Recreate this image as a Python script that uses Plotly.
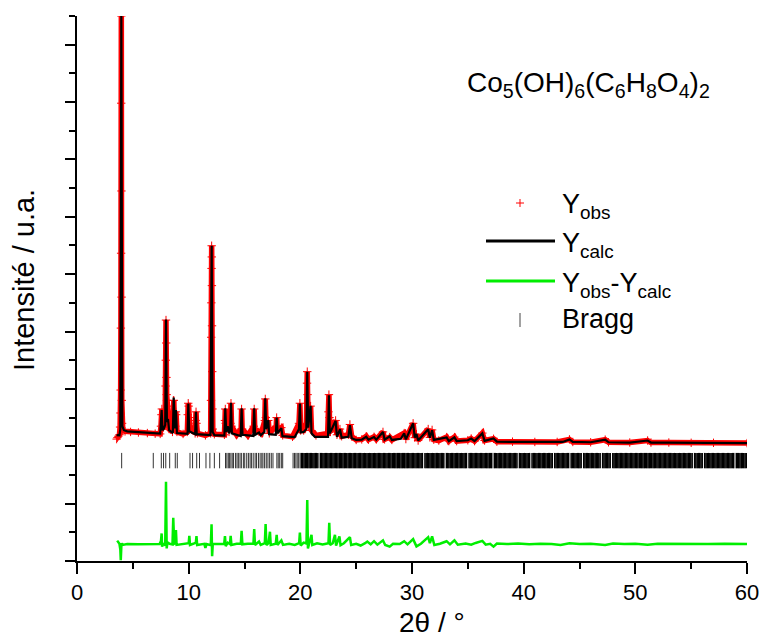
import plotly.graph_objects as go

# ---- data (2theta in degrees, intensity in arbitrary counts) ----
calc_profile = [
    (3.55, 4390), (3.80, 4380), (3.88, 4600), (3.97, 19000), (4.06, 4700), (4.20, 4560),
    (4.50, 4520), (5.50, 4500), (6.50, 4470), (7.45, 4440), (7.58, 5260), (7.66, 4560),
    (7.78, 4620), (7.90, 4750), (7.97, 8420), (8.05, 4850), (8.15, 4950), (8.25, 4560),
    (8.58, 4460), (8.66, 5700), (8.76, 4620), (8.86, 5260), (8.95, 4460), (9.90, 4430),
    (9.97, 5490), (10.05, 4520), (10.58, 4420), (10.65, 5200), (10.72, 4420), (11.95, 4390),
    (12.06, 10990), (12.15, 4500), (12.30, 4390), (13.20, 4370), (13.28, 5320), (13.36, 4500),
    (13.50, 4700), (13.62, 4450), (13.72, 4600), (13.79, 5520), (13.87, 4450), (14.66, 4360),
    (14.74, 5320), (14.82, 4400), (15.79, 4360), (15.87, 5320), (15.95, 4400), (16.30, 4480),
    (16.45, 4380), (16.78, 4500), (16.86, 5670), (16.94, 4600), (17.13, 4910), (17.20, 4420),
    (17.80, 4400), (17.88, 5000), (17.96, 4450), (18.30, 4630), (18.40, 4350), (19.50, 4320),
    (19.88, 4600), (19.96, 5490), (20.04, 4480), (20.30, 4500), (20.54, 4600), (20.62, 6600),
    (20.70, 4650), (20.92, 5410), (21.00, 4450), (21.30, 4330), (22.48, 4330), (22.56, 5780),
    (22.64, 4450), (23.16, 4890), (23.28, 4330), (23.55, 4590), (23.70, 4300), (24.30, 4330),
    (24.44, 4740), (24.60, 4280), (25.00, 4220), (25.50, 4230), (25.90, 4330), (26.10, 4230),
    (26.60, 4320), (26.80, 4230), (27.40, 4500), (27.55, 4230), (28.00, 4350), (28.20, 4220),
    (29.00, 4260), (29.30, 4450), (29.45, 4240), (30.10, 4800), (30.25, 4300), (30.40, 4430),
    (30.55, 4200), (31.45, 4590), (31.60, 4300), (31.80, 4560), (31.95, 4220), (33.10, 4310),
    (33.30, 4180), (33.80, 4310), (34.00, 4180), (35.00, 4210), (35.30, 4270), (35.60, 4180),
    (36.30, 4450), (36.50, 4190), (37.30, 4270), (37.60, 4160), (39.50, 4150), (41.50, 4150),
    (43.50, 4150), (44.10, 4240), (44.40, 4150), (46.00, 4140), (47.30, 4230), (47.60, 4140),
    (49.50, 4130), (51.10, 4200), (51.40, 4130), (53.00, 4130), (55.00, 4120), (57.00, 4120),
    (60.00, 4110),
]

obs_profile = [
    (3.55, 4250), (3.62, 4300), (3.70, 4350), (3.80, 4400), (3.86, 4670), (3.89, 5160),
    (3.91, 5960), (3.93, 8120), (3.95, 10730), (3.96, 15960), (3.97, 19000), (3.98, 12900),
    (3.99, 9200), (4.01, 5600), (4.04, 4800), (4.10, 4550), (4.30, 4520), (4.80, 4500),
    (5.50, 4480), (6.30, 4460), (7.00, 4440), (7.45, 4430), (7.52, 4700), (7.56, 5100),
    (7.60, 5300), (7.64, 4600), (7.72, 4650), (7.85, 4750), (7.90, 5200), (7.93, 6100),
    (7.95, 7000), (7.97, 8400), (7.99, 7600), (8.01, 6400), (8.03, 5800), (8.06, 5600),
    (8.10, 5400), (8.15, 4900), (8.25, 4600), (8.55, 4500), (8.60, 5000), (8.63, 5600),
    (8.67, 5600), (8.72, 4800), (8.80, 4700), (8.84, 5200), (8.88, 5100), (8.95, 4500),
    (9.50, 4430), (9.88, 4500), (9.92, 5100), (9.96, 5500), (10.00, 5400), (10.05, 5000),
    (10.10, 4700), (10.58, 4450), (10.62, 4900), (10.66, 5200), (10.70, 4800), (10.78, 4450),
    (11.50, 4380), (11.97, 4450), (12.00, 5600), (12.02, 7800), (12.03, 9000), (12.05, 10200),
    (12.06, 10990), (12.07, 10600), (12.08, 9600), (12.09, 8200), (12.11, 6600), (12.13, 5300),
    (12.16, 4600), (12.30, 4420), (13.20, 4400), (13.25, 4900), (13.28, 5300), (13.32, 4800),
    (13.45, 4650), (13.55, 4900), (13.62, 4500), (13.74, 4800), (13.79, 5500), (13.84, 4700),
    (14.30, 4400), (14.70, 4600), (14.74, 5300), (14.79, 4600), (15.30, 4380), (15.82, 4700),
    (15.87, 5300), (15.92, 4600), (16.30, 4500), (16.50, 4450), (16.82, 4900), (16.86, 5650),
    (16.91, 5000), (17.00, 4700), (17.13, 4900), (17.22, 4450), (17.84, 4700), (17.88, 5000),
    (17.93, 4550), (18.30, 4650), (18.42, 4380), (19.30, 4330), (19.88, 4800), (19.96, 5500),
    (20.03, 4550), (20.30, 4550), (20.55, 4800), (20.60, 6200), (20.62, 6600), (20.65, 5800),
    (20.72, 4700), (20.92, 5400), (21.00, 4550), (21.40, 4380), (22.45, 4450), (22.52, 5200),
    (22.56, 5800), (22.61, 5000), (22.70, 4500), (23.16, 4900), (23.28, 4400), (23.55, 4600),
    (23.70, 4350), (24.30, 4400), (24.44, 4760), (24.60, 4340), (25.00, 4220), (25.50, 4240),
    (25.90, 4350), (26.10, 4230), (26.60, 4330), (26.80, 4240), (27.40, 4500), (27.55, 4240),
    (28.00, 4320), (28.20, 4220), (29.30, 4460), (29.45, 4250), (30.10, 4800), (30.25, 4300),
    (30.40, 4420), (30.55, 4200), (31.45, 4600), (31.60, 4310), (31.80, 4570), (31.95, 4230),
    (32.40, 4200), (33.10, 4320), (33.30, 4180), (33.80, 4320), (34.00, 4180), (35.00, 4210),
    (35.30, 4270), (35.60, 4180), (36.30, 4460), (36.50, 4200), (37.30, 4260), (37.60, 4160),
    (39.00, 4160), (41.00, 4150), (43.00, 4150), (44.10, 4240), (44.40, 4150), (46.00, 4140),
    (47.30, 4230), (47.60, 4140), (49.50, 4130), (51.10, 4200), (51.40, 4130), (53.00, 4130),
    (55.00, 4120), (57.00, 4120), (60.00, 4110),
]

diff_profile = [
    (3.60, 710), (3.70, 640), (3.80, 600), (3.88, 400), (3.92, 30), (3.97, 500), (4.02, 620),
    (4.10, 560), (4.50, 590), (5.50, 580), (6.50, 590), (7.40, 590), (7.52, 700), (7.58, 960),
    (7.62, 500), (7.70, 600), (7.90, 550), (7.97, 2760), (8.03, 440), (8.10, 650), (8.30, 600),
    (8.55, 580), (8.62, 1510), (8.70, 600), (8.80, 620), (8.86, 1080), (8.92, 560), (9.50, 580),
    (10.00, 620), (10.06, 880), (10.12, 560), (10.40, 600), (10.64, 640), (10.70, 870),
    (10.76, 560), (11.40, 600), (11.50, 460), (11.60, 590), (11.98, 550), (12.05, 1280),
    (12.10, 170), (12.16, 600), (12.60, 590), (13.18, 590), (13.25, 870), (13.32, 520),
    (13.50, 640), (13.70, 590), (13.76, 880), (13.83, 560), (14.30, 600), (14.67, 600),
    (14.74, 1050), (14.81, 580), (15.30, 600), (15.80, 610), (15.87, 1110), (15.94, 560),
    (16.30, 680), (16.45, 560), (16.82, 620), (16.89, 1290), (16.96, 560), (17.15, 620),
    (17.28, 1020), (17.35, 560), (17.80, 600), (17.88, 910), (17.95, 560), (18.30, 720),
    (18.45, 560), (19.00, 600), (19.50, 560), (19.89, 620), (19.96, 990), (20.03, 540),
    (20.30, 640), (20.55, 610), (20.62, 2130), (20.68, 440), (20.80, 620), (21.00, 910),
    (21.07, 560), (21.50, 620), (22.00, 580), (22.52, 620), (22.59, 1330), (22.66, 560),
    (22.90, 620), (23.10, 910), (23.20, 540), (23.50, 860), (23.60, 550), (23.90, 620),
    (24.44, 830), (24.55, 560), (25.00, 600), (25.40, 540), (25.80, 620), (26.00, 680),
    (26.30, 580), (26.60, 690), (26.90, 570), (27.40, 720), (27.60, 560), (28.00, 500),
    (28.30, 600), (28.90, 590), (29.30, 690), (29.60, 580), (30.10, 760), (30.40, 510),
    (30.80, 600), (31.45, 830), (31.60, 620), (31.80, 860), (32.00, 560), (32.50, 600),
    (33.10, 690), (33.40, 580), (33.80, 720), (34.10, 570), (34.80, 610), (35.30, 570),
    (35.70, 630), (36.30, 700), (36.60, 570), (37.00, 600), (37.30, 500), (37.60, 610),
    (38.50, 590), (39.50, 610), (40.50, 580), (41.50, 600), (42.50, 590), (43.30, 560),
    (44.10, 620), (45.00, 590), (46.00, 600), (47.30, 560), (48.00, 610), (49.00, 590),
    (50.00, 600), (51.10, 570), (52.00, 600), (53.50, 590), (55.00, 600), (56.50, 590),
    (58.00, 600), (60.00, 590),
]

bragg_sparse = [
    4.00, 6.83, 7.55, 7.75, 7.95, 8.30, 8.80, 8.98, 10.12, 10.35, 10.72, 10.97, 11.55, 11.90,
    12.30, 12.77, 13.30, 13.42, 13.55, 13.65, 13.78, 13.90, 14.02, 14.20, 14.33, 14.45, 14.60,
    14.72, 14.90, 15.02, 15.20, 15.35, 15.50, 15.62, 15.78, 15.95, 16.08, 16.25, 16.40, 16.55,
    16.65, 16.80, 16.95, 17.10, 17.25, 17.40, 17.55, 17.90, 18.02, 18.15, 18.30, 18.42, 19.35,
    19.48, 19.60, 19.72, 19.85, 19.98,
]

bragg_dense = [
    20.10, 20.21, 20.33, 20.44, 20.55, 20.66, 20.78, 20.89, 21.00, 21.12,
    21.23, 21.34, 21.45, 21.57, 21.79, 21.91, 22.02, 22.13, 22.24, 22.36, 22.47, 22.58, 22.70,
    22.81, 22.92, 23.03, 23.15, 23.26, 23.37, 23.49, 23.60, 23.71, 23.82, 23.94, 24.05, 24.16,
    24.28, 24.39, 24.50, 24.61, 24.73, 24.84, 24.95, 25.07, 25.18, 25.29, 25.40, 25.52, 25.63,
    25.74, 25.86, 25.97, 26.08, 26.19, 26.31, 26.42, 26.53, 26.65, 26.76, 26.87, 26.98, 27.10,
    27.21, 27.32, 27.44, 27.55, 27.66, 27.77, 27.89, 28.00, 28.11, 28.23, 28.34, 28.45, 28.56,
    28.68, 28.79, 28.90, 29.02, 29.13, 29.24, 29.35, 29.47, 29.58, 29.69, 29.81, 29.92, 30.03,
    30.14, 30.26, 30.37, 30.48, 30.60, 30.71, 30.82, 30.93, 31.16, 31.27, 31.39, 31.50, 31.61,
    31.72, 31.84, 31.95, 32.06, 32.18, 32.29, 32.40, 32.51, 32.63, 32.74, 32.85, 33.08, 33.19,
    33.30, 33.42, 33.53, 33.64, 33.76, 33.87, 33.98, 34.09, 34.21, 34.32, 34.43, 34.55, 34.66,
    34.77, 34.88, 35.11, 35.22, 35.34, 35.45, 35.56, 35.67, 35.79, 35.90, 36.01, 36.13, 36.24,
    36.35, 36.46, 36.58, 36.69, 36.80, 36.92, 37.03, 37.14, 37.37, 37.48, 37.59, 37.71, 37.82,
    37.93, 38.04, 38.16, 38.27, 38.38, 38.50, 38.61, 38.72, 38.83, 38.95, 39.06, 39.17, 39.29,
    39.40, 39.62, 39.74, 39.85, 39.96, 40.08, 40.19, 40.30, 40.41, 40.53, 40.75, 40.87, 40.98,
    41.09, 41.20, 41.32, 41.43, 41.54, 41.66, 41.77, 41.88, 41.99, 42.11, 42.22, 42.33, 42.45,
    42.56, 42.78, 42.90, 43.01, 43.12, 43.24, 43.35, 43.46, 43.57, 43.69, 43.80, 43.91, 44.03,
    44.25, 44.36, 44.48, 44.59, 44.70, 44.82, 44.93, 45.04, 45.15, 45.38, 45.49, 45.61, 45.72,
    45.83, 45.94, 46.06, 46.17, 46.28, 46.40, 46.51, 46.62, 46.73, 46.85, 47.07, 47.19, 47.30,
    47.41, 47.52, 47.64, 47.75, 47.98, 48.09, 48.20, 48.31, 48.43, 48.54, 48.65, 48.77, 48.88,
    48.99, 49.10, 49.22, 49.33, 49.44, 49.56, 49.67, 49.78, 49.89, 50.01, 50.12, 50.23, 50.35,
    50.46, 50.57, 50.68, 50.80, 50.91, 51.02, 51.14, 51.25, 51.36, 51.47, 51.59, 51.70, 51.81,
    51.93, 52.04, 52.15, 52.26, 52.38, 52.49, 52.60, 52.72, 52.83, 52.94, 53.05, 53.17, 53.28,
    53.39, 53.51, 53.62, 53.73, 53.84, 53.96, 54.07, 54.18, 54.30, 54.41, 54.52, 54.63, 54.75,
    54.86, 54.97, 55.09, 55.31, 55.42, 55.54, 55.65, 55.76, 55.88, 55.99, 56.21, 56.33, 56.44,
    56.55, 56.67, 56.78, 56.89, 57.00, 57.12, 57.23, 57.34, 57.46, 57.57, 57.68, 57.79, 57.91,
    58.02, 58.13, 58.25, 58.36, 58.47, 58.58, 58.70, 58.81, 59.04, 59.15, 59.26, 59.37, 59.49,
    59.60, 59.71, 59.83, 59.94,
]
bragg_level = 3500

x_ticks = [0, 10, 20, 30, 40, 50, 60]
x_title = "2θ / °"
y_title = "Intensité / u.a."
formula = "Co<sub>5</sub>(OH)<sub>6</sub>(C<sub>6</sub>H<sub>8</sub>O<sub>4</sub>)<sub>2</sub>"
legend_labels = ["Y<sub>obs</sub>", "Y<sub>calc</sub>", "Y<sub>obs</sub>-Y<sub>calc</sub>", "Bragg"]

FONT = "Liberation Sans, Arial, sans-serif"
RED, BLACK, GREEN = "#ff0000", "#000000", "#00ee00"

fig = go.Figure()
ox, oy = zip(*obs_profile)
cx, cy = zip(*calc_profile)
dx, dy = zip(*diff_profile)

fig.add_trace(go.Scatter(x=ox, y=oy, mode="lines+markers", name="Yobs",
                         line=dict(color=RED, width=5.5),
                         marker=dict(symbol="cross-thin", size=6, color=RED,
                                     line=dict(color=RED, width=1)),
                         showlegend=False))
fig.add_trace(go.Scatter(x=cx, y=cy, mode="lines", name="Ycalc",
                         line=dict(color=BLACK, width=2.2), showlegend=False))
fig.add_trace(go.Scatter(x=dx, y=dy, mode="lines", name="Yobs-Ycalc",
                         line=dict(color=GREEN, width=2.5), showlegend=False))
fig.add_trace(go.Scatter(x=bragg_sparse, y=[bragg_level] * len(bragg_sparse), mode="markers",
                         name="Bragg", showlegend=False,
                         marker=dict(symbol="line-ns", size=11, color="#333",
                                     line=dict(color="#333", width=1))))
fig.add_trace(go.Scatter(x=bragg_dense, y=[bragg_level] * len(bragg_dense), mode="markers",
                         name="Bragg", showlegend=False,
                         marker=dict(symbol="line-ns", size=11, color=BLACK,
                                     line=dict(color=BLACK, width=1.5))))

L, R, T, B = 77, 15, 16, 76
W, H = 762, 637
PW, PH = W - L - R, H - T - B


def px(xp):
    return (xp - L) / PW


def py(yp):
    return (H - B - yp) / PH


shapes = [
    dict(type="line", xref="paper", yref="paper", x0=px(516), x1=px(524), y0=py(203), y1=py(203),
         line=dict(color=RED, width=1)),
    dict(type="line", xref="paper", yref="paper", x0=px(520), x1=px(520), y0=py(199), y1=py(207),
         line=dict(color=RED, width=1)),
    dict(type="line", xref="paper", yref="paper", x0=px(486), x1=px(555), y0=py(241), y1=py(241),
         line=dict(color=BLACK, width=3)),
    dict(type="line", xref="paper", yref="paper", x0=px(486), x1=px(555), y0=py(281), y1=py(281),
         line=dict(color=GREEN, width=3)),
    dict(type="line", xref="paper", yref="paper", x0=px(520), x1=px(520), y0=py(313), y1=py(327),
         line=dict(color="#444", width=1)),
]

ann = []
for lab, yy in zip(legend_labels, [206, 245, 285, 319]):
    ann.append(dict(xref="paper", yref="paper", x=px(560), y=py(yy), text=lab, showarrow=False,
                    xanchor="left", yanchor="middle", font=dict(family=FONT, size=27, color=BLACK)))
ann.append(dict(xref="paper", yref="paper", x=px(465), y=py(85), text=formula, showarrow=False,
                xanchor="left", yanchor="middle", font=dict(family=FONT, size=28, color=BLACK)))
ann.append(dict(xref="paper", yref="paper", x=px(432), y=py(622), text=x_title, showarrow=False,
                xanchor="center", yanchor="middle", font=dict(family=FONT, size=28, color=BLACK)))
ann.append(dict(xref="paper", yref="paper", x=px(24), y=py(280), text=y_title, showarrow=False,
                textangle=-90, xanchor="center", yanchor="middle",
                font=dict(family=FONT, size=29, color=BLACK)))

fig.update_layout(
    width=W, height=H, margin=dict(l=L, r=R, t=T, b=B, autoexpand=False),
    paper_bgcolor="white", plot_bgcolor="white",
    shapes=shapes, annotations=ann,
    xaxis=dict(range=[0, 60], tickvals=x_ticks, ticks="outside", ticklen=11, tickwidth=2,
               tickcolor=BLACK, showline=True, linewidth=2, linecolor=BLACK, showgrid=False,
               zeroline=False, automargin=False, tickfont=dict(family=FONT, size=22, color=BLACK),
               minor=dict(dtick=5, tick0=0, ticks="outside", ticklen=6, tickwidth=2,
                          tickcolor=BLACK, showgrid=False)),
    yaxis=dict(range=[0, 19000], dtick=2000, tick0=0, ticks="outside", ticklen=10, tickwidth=2,
               tickcolor=BLACK, showline=True, linewidth=2, linecolor=BLACK, showgrid=False,
               zeroline=False, showticklabels=False, automargin=False,
               minor=dict(dtick=1000, tick0=0, ticks="outside", ticklen=6, tickwidth=2,
                          tickcolor=BLACK, showgrid=False)),
)

fig.write_html("out.html", config={"displayModeBar": False},
               post_script="document.body.style.margin='0';document.body.style.overflow='hidden';")
